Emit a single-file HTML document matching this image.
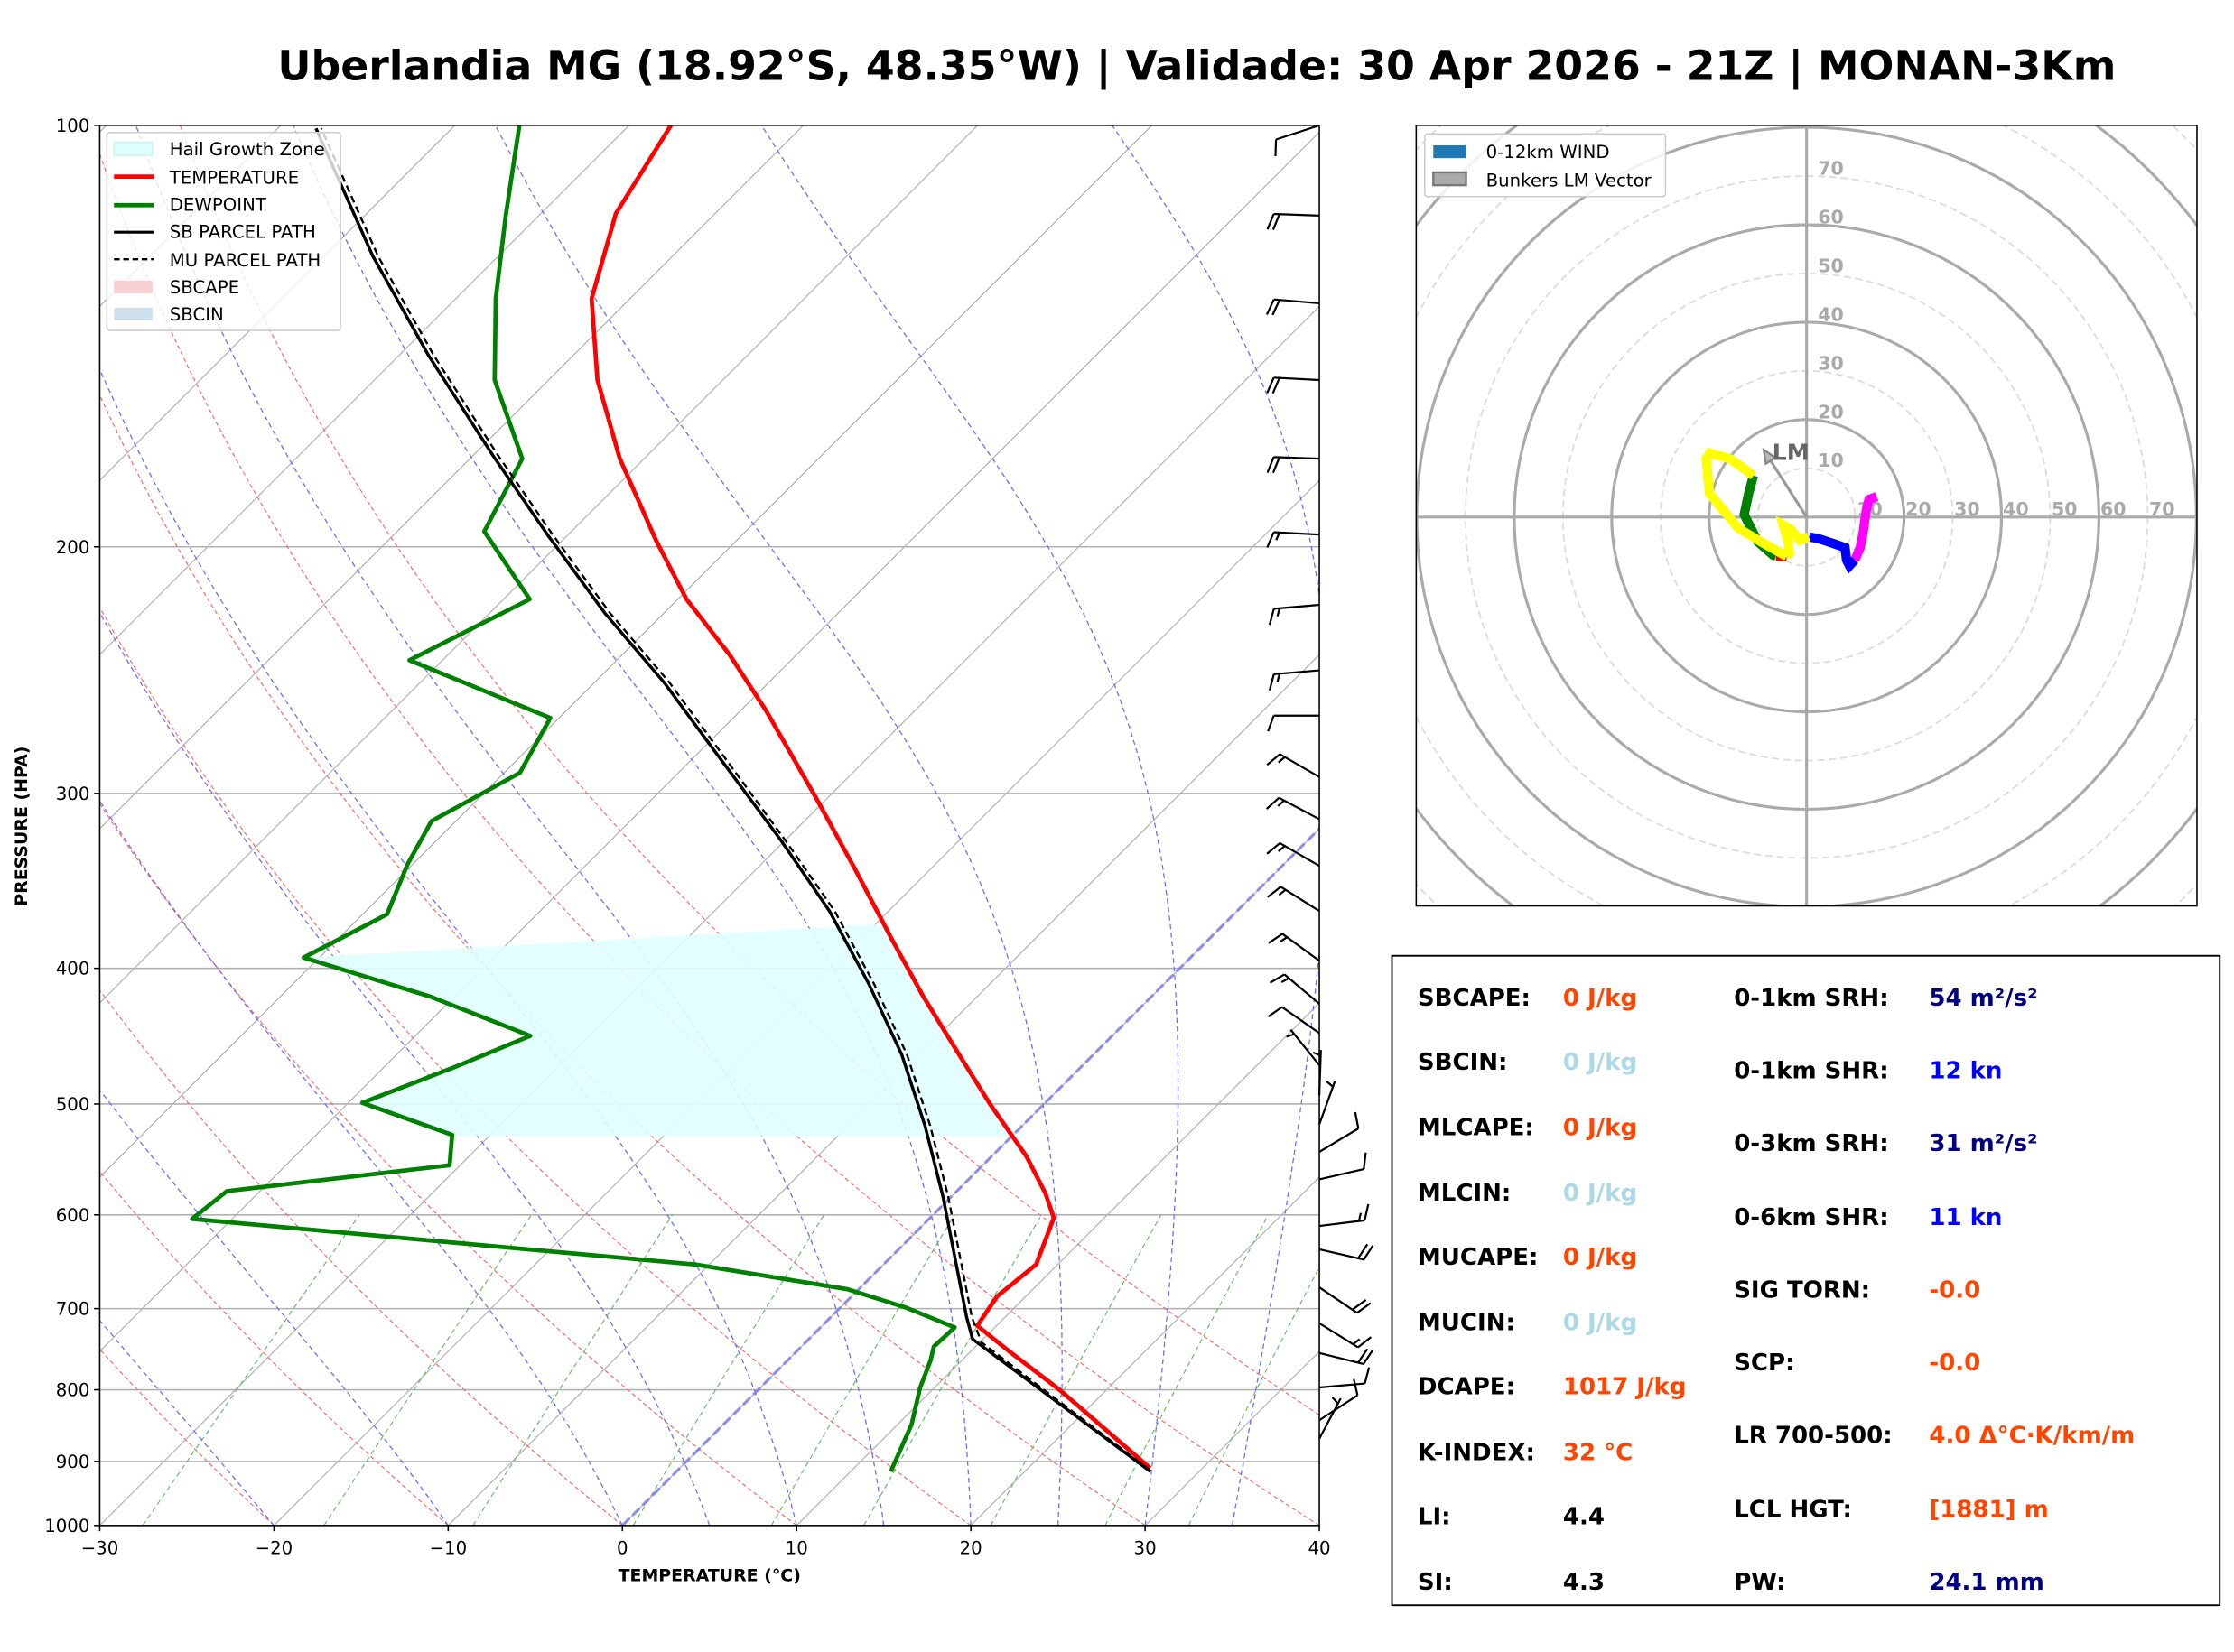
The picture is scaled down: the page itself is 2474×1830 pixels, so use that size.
<!DOCTYPE html>
<html><head><meta charset="utf-8">
<style>
html,body{margin:0;padding:0;background:#fff;}
svg{display:block;font-family:"DejaVu Sans","Liberation Sans",sans-serif;}
</style></head>
<body>
<svg id="fig" width="2474" height="1830" viewBox="0 0 1568 1159.8" xmlns="http://www.w3.org/2000/svg">
<defs><clipPath id="plotclip"><rect x="70" y="88" width="856" height="983"/></clipPath>
<clipPath id="hodoclip"><rect x="994" y="88" width="548" height="548"/></clipPath></defs>
<rect x="0" y="0" width="1568" height="1160" fill="#fff"/>
<text x="840" y="56" text-anchor="middle" font-size="29" font-weight="bold">Uberlandia MG (18.92°S, 48.35°W) | Validade: 30 Apr 2026 - 21Z | MONAN-3Km</text>
<g id="bg" clip-path="url(#plotclip)"></g>
<g id="series" clip-path="url(#plotclip)"></g>
<g id="barbs"></g>
<rect x="70" y="88" width="856" height="983" fill="none" stroke="#000" stroke-width="1"/>
<g id="axes"></g>
<text x="0" y="0" transform="translate(19,580) rotate(-90)" text-anchor="middle" font-size="12" font-weight="bold">PRESSURE (HPA)</text>
<text x="498" y="1110" text-anchor="middle" font-size="12" font-weight="bold">TEMPERATURE (°C)</text>
<g>
<rect x="75" y="93" width="164" height="139" fill="#fff" fill-opacity="0.8" stroke="#ccc" rx="2"/>
<rect x="80" y="100" width="27" height="9" fill="#e0ffff" stroke="#c8f4f4"/>
<text x="119" y="109" font-size="12.5">Hail Growth Zone</text>
<line x1="80" y1="124" x2="108" y2="124" stroke="red" stroke-width="3"/>
<text x="119" y="129" font-size="12.5">TEMPERATURE</text>
<line x1="80" y1="144" x2="108" y2="144" stroke="green" stroke-width="3"/>
<text x="119" y="148" font-size="12.5">DEWPOINT</text>
<line x1="80" y1="163" x2="108" y2="163" stroke="#000" stroke-width="2"/>
<text x="119" y="167" font-size="12.5">SB PARCEL PATH</text>
<line x1="80" y1="182" x2="108" y2="182" stroke="#000" stroke-width="1.5" stroke-dasharray="4,2.5"/>
<text x="119" y="187" font-size="12.5">MU PARCEL PATH</text>
<rect x="80" y="197" width="27" height="9" fill="#f7cfd2"/>
<text x="119" y="206" font-size="12.5">SBCAPE</text>
<rect x="80" y="216" width="27" height="9" fill="#cfe0ee"/>
<text x="119" y="225" font-size="12.5">SBCIN</text>
</g>
<g id="hodo"></g>
<rect x="994" y="88" width="548" height="548" fill="none" stroke="#000" stroke-width="1"/>
<g>
<rect x="1000" y="94" width="169" height="44" fill="#fff" fill-opacity="0.85" stroke="#ccc" rx="2"/>
<rect x="1006" y="102" width="23" height="9" fill="#1f77b4"/>
<text x="1043" y="111" font-size="12.5">0-12km WIND</text>
<rect x="1006" y="121" width="23" height="9" fill="#aaa" stroke="#777" stroke-width="1.5"/>
<text x="1043" y="131" font-size="12.5">Bunkers LM Vector</text>
</g>
<g font-size="16.5" font-weight="bold">
<rect x="977" y="671" width="581" height="456" fill="#fff" stroke="#000" stroke-width="1.2"/>
<text x="995" y="706">SBCAPE:</text><text x="1097" y="706" fill="#ff4500">0 J/kg</text>
<text x="995" y="751">SBCIN:</text><text x="1097" y="751" fill="#add8e6">0 J/kg</text>
<text x="995" y="797">MLCAPE:</text><text x="1097" y="797" fill="#ff4500">0 J/kg</text>
<text x="995" y="843">MLCIN:</text><text x="1097" y="843" fill="#add8e6">0 J/kg</text>
<text x="995" y="888">MUCAPE:</text><text x="1097" y="888" fill="#ff4500">0 J/kg</text>
<text x="995" y="934">MUCIN:</text><text x="1097" y="934" fill="#add8e6">0 J/kg</text>
<text x="995" y="979">DCAPE:</text><text x="1097" y="979" fill="#ff4500">1017 J/kg</text>
<text x="995" y="1025">K-INDEX:</text><text x="1097" y="1025" fill="#ff4500">32 °C</text>
<text x="995" y="1070">LI:</text><text x="1097" y="1070">4.4</text>
<text x="995" y="1116">SI:</text><text x="1097" y="1116">4.3</text>
<text x="1217" y="706">0-1km SRH:</text><text x="1354" y="706" fill="#000080">54 m²/s²</text>
<text x="1217" y="757">0-1km SHR:</text><text x="1354" y="757" fill="#0000ff">12 kn</text>
<text x="1217" y="808">0-3km SRH:</text><text x="1354" y="808" fill="#000080">31 m²/s²</text>
<text x="1217" y="860">0-6km SHR:</text><text x="1354" y="860" fill="#0000ff">11 kn</text>
<text x="1217" y="911">SIG TORN:</text><text x="1354" y="911" fill="#ff4500">-0.0</text>
<text x="1217" y="962">SCP:</text><text x="1354" y="962" fill="#ff4500">-0.0</text>
<text x="1217" y="1013">LR 700-500:</text><text x="1354" y="1013" fill="#ff4500">4.0 Δ°C·K/km/m</text>
<text x="1217" y="1065">LCL HGT:</text><text x="1354" y="1065" fill="#ff4500">[1881] m</text>
<text x="1217" y="1116">PW:</text><text x="1354" y="1116" fill="#000080">24.1 mm</text>
</g>
</svg>
<script>
// ---- data ----
const tempP = [910,800,750,720,686,651,603,579,545,500,466,419,382,340,302,262,239,218,198,173,152,133,115.6,100];
const tempT = [27.0,17.3,12.1,8.9,8.35,8.76,7.1,5.2,2.0,-3.1,-7.1,-13.1,-18.1,-24.3,-30.7,-38.5,-43.8,-49.5,-54.6,-61.4,-67.2,-72.2,-75.7,-77.6];
const dewP = [915,847,798,762,745,722,699,678,651,604,577,553,526,499,471,447,419,393,366,337,314,290,265,241,218,195,173,152,133,116,100];
const dewT = [12.3,10.8,9.2,8.2,7.6,7.7,3.8,-0.65,-10.8,-42.3,-41.9,-30.6,-32.2,-39.2,-36.0,-33.4,-41.4,-50.9,-48.6,-50.3,-51.4,-49.1,-50.5,-61.9,-58.5,-65,-67,-73.1,-77.7,-81.9,-86.3];
const sbP = [915,736,710,639,582,518,461,410,364,324,282,250,223,196,172,146,124,100.5];
const sbT = [27.2,9.4,7.8,3.4,-0.5,-5.6,-11,-17,-23.4,-30.25,-38.7,-46,-53.4,-61.2,-68.9,-78.3,-87.2,-97.8];
const muP = [912,740,710,639,582,518,461,410,364,324,282,250,223,196,172,146,124,100.5];
const muT = [27.0,10.1,8.1,3.7,-0.2,-5.3,-10.7,-16.7,-23.1,-30.0,-38.4,-45.7,-53.1,-60.9,-68.6,-78.0,-86.9,-97.5];
const hailTop = 393, hailBot = 527;
const barbP = [100,116,134,152,173,196,220,245,264,292,313,338,364,395,424,445,469,493,517,541,566,611,635,676,717,753,797,841,867];
const barbDir = [252,272,275,273,272,273,265,265,270,300,298,300,302,306,310,305,321,2,20,59,77,83,103,124,122,104,85,57,28];
const barbSpd = [10,20,20,20,20,15,15,15,10,15,15,15,15,15,15,10,5,5,5,10,10,15,20,20,15,20,10,10,5];
const hodoSegColors = ['magenta','blue','yellow','red','green','yellow'];
const hodoU = [
 [14.4,12.8,12.2,11.6,11.0,9.9],
 [9.9,8.8,8.2,7.9,5.4,2.3,0.5],
 [0.5,-1.4,-3.2,-4.8,-3.8,-3.5,-4.1],
 [-4.1,-6.3],
 [-6.3,-6.9,-10,-12.8,-11.9,-10.9],
 [-10.9,-13.1,-15.6,-19.9,-20.6,-19.9,-14,-9.4,-4.1]];
const hodoV = [
 [4.2,3.6,1.1,-3.2,-6.3,-8.8],
 [-8.8,-10,-8.8,-6.3,-5.4,-4.4,-4.1],
 [-4.1,-4.8,-2.6,-1.7,-5.1,-7.5,-8.1],
 [-8.1,-8.0],
 [-8.0,-7.8,-5.1,0.5,4.8,8.5],
 [8.5,10.1,11.9,13.1,11.9,4.8,-2.3,-5.1,-8.1]];
const lmU = -8.8, lmV = 13.8;
const xTicks = [-30,-20,-10,0,10,20,30,40];
const yTicks = [100,200,300,400,500,600,700,800,900,1000];
const hodoRingLabels = [10,20,30,40,50,60,70];

// ---- helpers ----
const NS = 'http://www.w3.org/2000/svg';
function mk(tag, attrs, parent){ const e=document.createElementNS(NS,tag); for(const k in attrs) e.setAttribute(k,attrs[k]); parent.appendChild(e); return e; }
const X0=70, X1=926, Y0=88, Y1=1071, PXC=(X1-X0)/70, PH=Y1-Y0;
function yP(p){ return Y1 - PH*Math.log10(1000/p); }
function xT(T,p){ return X0 + (T+30)*PXC + (Y1 - yP(p)); }
function pathFrom(ps, ts){ return ps.map((p,i)=>(i?'L':'M')+xT(ts[i],p).toFixed(2)+','+yP(p).toFixed(2)).join(' '); }
function interp(ps, ts, p){ for(let i=0;i<ps.length-1;i++){ if((p<=ps[i]&&p>=ps[i+1])){ const f=(Math.log(p)-Math.log(ps[i]))/(Math.log(ps[i+1])-Math.log(ps[i])); return ts[i]+f*(ts[i+1]-ts[i]); } } return ts[ts.length-1]; }

const bg=document.getElementById('bg'), series=document.getElementById('series'), axes=document.getElementById('axes'), barbs=document.getElementById('barbs'), hodo=document.getElementById('hodo');

for(const p of [200,300,400,500,600,700,800,900]){
  const l=mk('line',{x1:X0,x2:X1,y1:yP(p),y2:yP(p),stroke:'#b0b0b0','stroke-width':1},bg);
  
  
}
for(let T=-110;T<=40;T+=10){
  const l=mk('line',{x1:xT(T,1000),y1:yP(1000),x2:xT(T,100),y2:yP(100),stroke:'#b4b4b4','stroke-width':0.8},bg);
  
  
}
for(let t0=-40;t0<=50;t0+=10){
  const th=t0+273.15; let d='';
  for(let p=1000;p>=100;p-=10){ const T=th*Math.pow(p/1000,0.2857)-273.15; d+=(p===1000?'M':'L')+xT(T,p).toFixed(1)+','+yP(p).toFixed(1); }
  const l=mk('path',{d:d,fill:'none',stroke:'#ff6060','stroke-width':0.7,'stroke-dasharray':'3,2'},bg);
  
  
}
function esat(Tc){ return 6.112*Math.exp(17.67*Tc/(Tc+243.5)); }
function dTdp(T,p){ const es=esat(T-273.15); const rs=0.622*es/(p-es); return (287.04*T+2.501e6*rs)/(1005.7+2.501e6*2.501e6*rs*0.622/(287.04*T*T))/p; }
const moistT0=[-30,-20,-10,0,5,10,15,20,25,30,35,40];
for(const t0 of moistT0){
  let T=t0+273.15, d='M'+xT(t0,1000).toFixed(1)+','+yP(1000).toFixed(1);
  for(let p=1000;p>100;p-=5){ const k1=dTdp(T,p); const k2=dTdp(T-5*k1,p-5); T=T-5*(k1+k2)/2; d+='L'+xT(T-273.15,p-5).toFixed(1)+','+yP(p-5).toFixed(1); }
  const l=mk('path',{d:d,fill:'none',stroke:'#6a6aff','stroke-width':0.8,'stroke-dasharray':'3.5,2.5'},bg);
  
  
}
for(const w of [0.0004,0.001,0.002,0.004,0.007,0.01,0.016,0.024,0.032]){
  let d='';
  for(let p=1000;p>=600;p-=20){ const e=p*w/(0.622+w); const lg=Math.log(e/6.112); const Td=243.5*lg/(17.67-lg); d+=(p===1000?'M':'L')+xT(Td,p).toFixed(1)+','+yP(p).toFixed(1); }
  const l=mk('path',{d:d,fill:'none',stroke:'#5cb85c','stroke-width':0.7,'stroke-dasharray':'3.5,2.5'},bg);
  
  
}
const zi=mk('line',{x1:xT(0,1000),y1:yP(1000),x2:xT(0,100),y2:yP(100),stroke:'#7a7af0','stroke-width':2,'stroke-dasharray':'7,3','stroke-opacity':0.8},bg);



(function(){
  const pts=[];
  const dp=[hailBot]; for(const p of dewP){ if(p<hailBot&&p>hailTop) dp.push(p);} dp.push(hailTop);
  for(const p of dp) pts.push([xT(interp(dewP,dewT,p),p),yP(p)]);
  const tp=[372]; for(let i=tempP.length-1;i>=0;i--){ const p=tempP[i]; if(p>372&&p<hailBot) tp.push(p);} tp.push(hailBot);
  for(const p of tp) pts.push([xT(interp(tempP,tempT,p),p),yP(p)]);
  const poly=mk('polygon',{points:pts.map(a=>a[0].toFixed(1)+','+a[1].toFixed(1)).join(' '),fill:'#e0ffff','fill-opacity':0.9},series);
  
  
})();

const tl=mk('path',{d:pathFrom(tempP,tempT),fill:'none',stroke:'red','stroke-width':3,'stroke-linejoin':'round'},series);


const dl=mk('path',{d:pathFrom(dewP,dewT),fill:'none',stroke:'green','stroke-width':3,'stroke-linejoin':'round'},series);


const sbl=mk('path',{d:pathFrom(sbP,sbT),fill:'none',stroke:'#000','stroke-width':2.2,'stroke-linejoin':'round'},series);


const mul=mk('path',{d:pathFrom(muP,muT),fill:'none',stroke:'#000','stroke-width':1.5,'stroke-dasharray':'5,3'},series);



for(const t of xTicks){
  const x=X0+(t+30)*PXC;
  const tk=mk('line',{x1:x,x2:x,y1:Y1,y2:Y1+4,stroke:'#000'},axes);
  
  
  const tx=mk('text',{x:x,y:Y1+20,'text-anchor':'middle','font-size':12.5},axes);
  tx.textContent=(t<0?'\u2212'+(-t):''+t);
  
  
}
for(const p of yTicks){
  const y=yP(p);
  const tk=mk('line',{x1:X0-4,x2:X0,y1:y,y2:y,stroke:'#000'},axes);
  
  
  const tx=mk('text',{x:X0-7,y:y+4.5,'text-anchor':'end','font-size':12.5},axes);
  tx.textContent=''+p;
  
  
}

barbP.forEach((p,i)=>{
  const bx=X1, by=yP(p), L=32;
  const a=barbDir[i]*Math.PI/180;
  const sx=Math.sin(a), sy=-Math.cos(a);
  const ex=bx+sx*L, ey=by+sy*L;
  let d='M'+bx.toFixed(1)+','+by.toFixed(1)+'L'+ex.toFixed(1)+','+ey.toFixed(1);
  const px=sy, py=-sx;
  let spd=barbSpd[i], pos=0;
  while(spd>=10){ const ox=ex-sx*pos, oy=ey-sy*pos; d+='M'+ox.toFixed(1)+','+oy.toFixed(1)+'l'+((px*11+sx*4)).toFixed(1)+','+((py*11+sy*4)).toFixed(1); spd-=10; pos+=4; }
  if(spd>=5){ if(pos===0) pos=4; const ox=ex-sx*pos, oy=ey-sy*pos; d+='M'+ox.toFixed(1)+','+oy.toFixed(1)+'l'+((px*5.5+sx*2)).toFixed(1)+','+((py*5.5+sy*2)).toFixed(1); }
  const b=mk('path',{d:d,fill:'none',stroke:'#000','stroke-width':1.4},barbs);
  
  
});

const HC=[1268,363], HK=3.42;
const hg=mk('g',{'clip-path':'url(#hodoclip)'},hodo);


for(let r=10;r<=110;r+=10){
  const solid=(r%20===0);
  const c=mk('circle',{cx:HC[0],cy:HC[1],r:r*HK,fill:'none',stroke:solid?'#aaa':'#ddd','stroke-width':solid?2:1.2,'stroke-dasharray':solid?'none':'5,3'},hg);
  
  
}
const hx=mk('line',{x1:994,x2:1542,y1:HC[1],y2:HC[1],stroke:'#aaa','stroke-width':2},hg);


const hy=mk('line',{x1:HC[0],x2:HC[0],y1:88,y2:636,stroke:'#aaa','stroke-width':2},hg);


for(const r of hodoRingLabels){
  const t1=mk('text',{x:HC[0]+r*HK+1,y:HC[1]-1,'font-size':13,'font-weight':'bold',fill:'#aaa'},hodo);
  t1.textContent=''+r;
  
  
  const t2=mk('text',{x:HC[0]+8,y:HC[1]-r*HK-1,'font-size':13,'font-weight':'bold',fill:'#aaa'},hodo);
  t2.textContent=''+r;
  
  
}
hodoU.forEach((us,i)=>{
  const d=us.map((u,j)=>(j?'L':'M')+(HC[0]+u*HK).toFixed(1)+','+(HC[1]-hodoV[i][j]*HK).toFixed(1)).join(' ');
  const s=mk('path',{d:d,fill:'none',stroke:hodoSegColors[i],'stroke-width':6.5,'stroke-linejoin':'miter'},hodo);
  
  
});
(function(){
  const tx=HC[0]+lmU*HK, ty=HC[1]-lmV*HK;
  const ang=Math.atan2(ty-HC[1],tx-HC[0]);
  const a=mk('line',{x1:HC[0],y1:HC[1],x2:tx-Math.cos(ang)*6,y2:ty-Math.sin(ang)*6,stroke:'#999','stroke-width':2},hodo);
  
  
  const hx1=tx-Math.cos(ang)*9+Math.sin(ang)*4, hy1=ty-Math.sin(ang)*9-Math.cos(ang)*4;
  const hx2=tx-Math.cos(ang)*9-Math.sin(ang)*4, hy2=ty-Math.sin(ang)*9+Math.cos(ang)*4;
  const h=mk('polygon',{points:tx+','+ty+' '+hx1+','+hy1+' '+hx2+','+hy2,fill:'#bbb',stroke:'#888','stroke-width':1.5},hodo);
  
  
  const lt=mk('text',{x:tx+6,y:ty+7,'font-size':16,'font-weight':'bold',fill:'#666'},hodo);
  lt.textContent='LM';
  
  
})();
</script>
</body></html>
